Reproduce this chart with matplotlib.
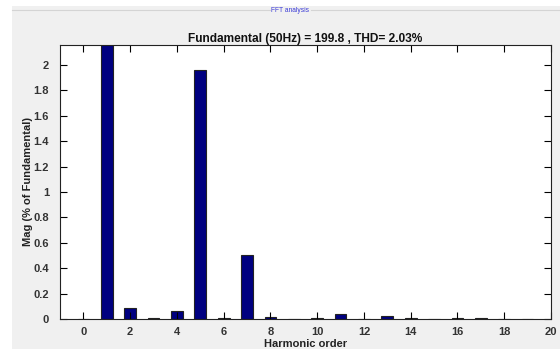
import matplotlib.pyplot as plt
from matplotlib.patches import Rectangle
from matplotlib.lines import Line2D
import numpy as np

# harmonic spectrum, % of fundamental (h1 = 100 is clipped by the y limit)
orders = list(range(0, 20))
mag = [0.002, 100.0, 0.085, 0.008, 0.065, 1.96, 0.005, 0.50, 0.015, 0.003,
       0.01, 0.04, 0.003, 0.02, 0.005, 0.002, 0.005, 0.005, 0.003, 0.003]
title = "Fundamental (50Hz) = 199.8 , THD= 2.03%"
yticks = [0, 0.2, 0.4, 0.6, 0.8, 1, 1.2, 1.4, 1.6, 1.8, 2]
ytick_labels = ["0", "0.2", "0.4", "0.6", "0.8", "1", "1.2", "1.4", "1.6", "1.8", "2"]
xticks = list(range(0, 21, 2))

plt.rcParams['font.family'] = ['Liberation Sans', 'DejaVu Sans']

W, H = 560, 349
fig = plt.figure(figsize=(W / 100, H / 100), dpi=100, facecolor="white")

# grey panel behind the axes
fig.patches.append(Rectangle((12 / W, 0), 1 - 12 / W, 1 - 6 / H,
                             transform=fig.transFigure, facecolor="#f0f0f0",
                             edgecolor="none", zorder=-10))
# panel title line with its label
ly = 1 - 10 / H
fig.add_artist(Line2D([12 / W, 270 / W], [ly, ly], color="#d4d4d4", lw=0.8))
fig.add_artist(Line2D([311 / W, 1], [ly, ly], color="#d4d4d4", lw=0.8))
fig.text(290 / W, ly, "FFT analysis", fontsize=4.8, color="#3b3bd6",
         ha="center", va="center")

ax = fig.add_axes([60 / W, 1 - 319 / H, (551 - 60) / W, (319 - 45) / H])
ax.set_facecolor("white")
ax.bar(orders, mag, width=0.5, color="#000080", edgecolor="#222222",
       linewidth=0.8)

ax.set_xlim(-1, 20)
ax.set_ylim(0, 2.157)
ax.set_xticks(xticks)
ax.set_xticklabels([str(t) for t in xticks])
ax.set_yticks(yticks)
ax.set_yticklabels(ytick_labels)
ax.tick_params(direction="in", length=5, width=0.8, top=True, right=True,
               labelsize=8)
ax.tick_params(axis="x", pad=6)
ax.tick_params(axis="y", pad=8)
for lab in ax.get_xticklabels() + ax.get_yticklabels():
    lab.set_fontweight("bold")
    lab.set_color("#333333")
for sp in ax.spines.values():
    sp.set_linewidth(0.8)
    sp.set_color("#222222")

ax.set_title(title, fontsize=8.6, fontweight="bold", pad=2, color="#111111")
ax.set_xlabel("Harmonic order", fontsize=8, fontweight="bold", labelpad=1,
              color="#222222")
ax.set_ylabel("Mag (% of Fundamental)", fontsize=8, fontweight="bold",
              color="#222222")
ax.yaxis.set_label_coords(-0.054, 0.5)

fig.savefig("out.png", dpi=100, facecolor="white")
